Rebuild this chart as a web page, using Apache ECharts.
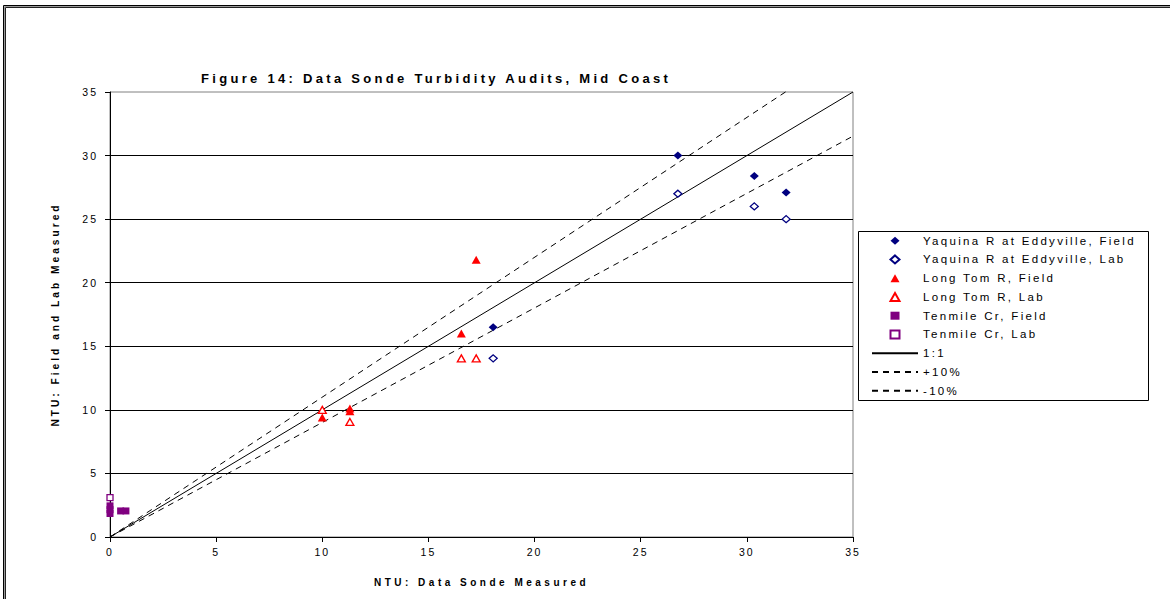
<!DOCTYPE html>
<html>
<head>
<meta charset="utf-8">
<script src="https://cdn.jsdelivr.net/npm/echarts@6/dist/echarts.min.js"></script>
<style>
  html, body { margin: 0; padding: 0; background: #fff; }
  #chart { width: 1170px; height: 599px; }
</style>
</head>
<body>
<div id="chart"></div>
<script>
// Text
const titleText = 'Figure 14: Data Sonde Turbidity Audits, Mid Coast';
const xAxisTitle = 'NTU: Data Sonde Measured';
const yAxisTitle = 'NTU: Field and Lab Measured';

// Axis range (NTU)
const axisMin = 0;
const axisMax = 35;
const axisStep = 5;

// Series names
const markerSeriesNames = [
  'Yaquina R at Eddyville, Field',
  'Yaquina R at Eddyville, Lab',
  'Long Tom R, Field',
  'Long Tom R, Lab',
  'Tenmile Cr, Field',
  'Tenmile Cr, Lab'
];
const lineSeriesNames = ['1:1', '+10%', '-10%'];

// Yaquina R at Eddyville: sonde reading vs field / lab turbidity
const yaquinaSonde = [18.05, 26.75, 30.35, 31.85];
const yaquinaField = [16.5, 30.0, 28.4, 27.1];
const yaquinaLab   = [14.05, 27.0, 26.0, 25.0];

// Long Tom R
const longTomFieldSonde = [10.0, 11.3, 11.3, 16.55, 17.25];
const longTomField      = [9.4, 10.1, 9.9, 16.0, 21.8];
const longTomLabSonde   = [10.0, 11.3, 16.55, 17.25];
const longTomLab        = [10.0, 9.05, 14.05, 14.05];

// Tenmile Cr
const tenmileFieldSonde = [0, 0, 0, 0.5, 0.75];
const tenmileField      = [1.85, 2.15, 2.45, 2.05, 2.05];
const tenmileLabSonde   = [0];
const tenmileLab        = [3.1];

// Reference lines (end points)
const oneToOneX = [0, 35];
const oneToOneY = [0, 35];
const plusTenX  = [0, 32.0];
const plusTenY  = [0, 35.2];
const minusTenX = [0, 35.3];
const minusTenY = [0, 31.8];

const pairs = (xs, ys) => xs.map((x, i) => [x, ys[i]]);

const FONT = '"Liberation Sans", Arial, sans-serif';
const NAVY = '#000080';
const RED = '#ff0000';
const PURPLE = '#800080';

// Letter spacing per font size (applied to the SVG text nodes)
const spacingBySize = { '13': 3.3, '11.5': 2.3, '10.5': 2.0, '10': 3.5, '10.2': 3.0 };

function scatter(name, data, symbol, size, fill, stroke) {
  return {
    name, type: 'scatter', data, symbol, symbolSize: size, z: 3,
    itemStyle: { color: fill, borderColor: stroke, borderWidth: fill === '#ffffff' ? 1.3 : 0, opacity: 1 },
    emphasis: { disabled: true }
  };
}
function refLine(name, data, dash) {
  return {
    name, type: 'line', data, symbol: 'none', clip: false, z: 2,
    lineStyle: { color: '#000', width: 1, type: dash },
    itemStyle: { color: '#000' },
    emphasis: { disabled: true }
  };
}

const rowPitch = 18.75;
const legendTop = 234.7;

const chart = echarts.init(document.getElementById('chart'), null, { renderer: 'svg' });

chart.setOption({
  animation: false,
  backgroundColor: '#ffffff',
  title: {
    text: titleText,
    left: 196, top: 67,
    textStyle: { fontFamily: FONT, fontSize: 13, fontWeight: 'bold', color: '#000' }
  },
  grid: {
    left: 110, top: 92, right: 317, bottom: 62,
    show: true, borderColor: '#808080', borderWidth: 1, backgroundColor: '#fff'
  },
  xAxis: {
    type: 'value', min: axisMin, max: axisMax, interval: axisStep,
    name: xAxisTitle, nameLocation: 'middle', nameGap: 40,
    nameTextStyle: { fontFamily: FONT, fontSize: 10, fontWeight: 'bold', color: '#000' },
    axisLine: { show: true, onZero: false, lineStyle: { color: '#000', width: 1 } },
    axisTick: { show: true, inside: false, length: 5, lineStyle: { color: '#000' } },
    axisLabel: { margin: 9, fontFamily: FONT, fontSize: 10.5, color: '#000' },
    splitLine: { show: false }
  },
  yAxis: {
    type: 'value', min: axisMin, max: axisMax, interval: axisStep,
    name: yAxisTitle, nameLocation: 'middle', nameGap: 50, nameRotate: 90,
    nameTextStyle: { fontFamily: FONT, fontSize: 10.2, fontWeight: 'bold', color: '#000' },
    axisLine: { show: true, onZero: false, lineStyle: { color: '#000', width: 1 } },
    axisTick: { show: true, inside: false, length: 5, lineStyle: { color: '#000' } },
    axisLabel: { margin: 12, fontFamily: FONT, fontSize: 10.5, color: '#000' },
    splitLine: { show: true, showMinLine: false, showMaxLine: false, lineStyle: { color: '#000', width: 1 } }
  },
  legend: [
    {
      // marker series: small icon centred over the line icons, text pushed to the same column
      orient: 'vertical',
      left: 889.5, top: legendTop,
      itemWidth: 9, itemHeight: 8, itemGap: rowPitch - 12, itemTextGap: 5.5,
      padding: 0,
      data: markerSeriesNames,
      textStyle: { fontFamily: FONT, fontSize: 11.5, lineHeight: 12, color: '#000', padding: [0, 0, 0, 18.5] },
      selectedMode: false
    },
    {
      // reference lines
      orient: 'vertical',
      left: 871, top: legendTop + 6 * rowPitch,
      itemWidth: 46, itemHeight: 8, itemGap: rowPitch - 12, itemTextGap: 5.5,
      padding: 0,
      data: lineSeriesNames,
      textStyle: { fontFamily: FONT, fontSize: 11.5, lineHeight: 12, color: '#000' },
      itemStyle: { color: 'rgba(0,0,0,0)', borderWidth: 0, opacity: 0 },
      selectedMode: false
    }
  ],
  graphic: [
    { type: 'rect', silent: true, z: 100,
      shape: { x: 3.5, y: 5.5, width: 1200, height: 700 },
      style: { fill: 'none', stroke: '#000', lineWidth: 1 } },
    { type: 'rect', silent: true, z: 100,
      shape: { x: 4.5, y: 6.5, width: 1200, height: 700 },
      style: { fill: 'none', stroke: '#999', lineWidth: 1 } },
    { type: 'rect', silent: true, z: 100,
      shape: { x: 5.5, y: 7.5, width: 1200, height: 700 },
      style: { fill: 'none', stroke: '#222', lineWidth: 1 } },
    { type: 'rect', silent: true, z: 100,
      shape: { x: 858.5, y: 231.5, width: 290, height: 169 },
      style: { fill: 'none', stroke: '#000', lineWidth: 1 } }
  ],
  series: [
    refLine(lineSeriesNames[0], pairs(oneToOneX, oneToOneY), 'solid'),
    refLine(lineSeriesNames[1], pairs(plusTenX, plusTenY), [6, 5]),
    refLine(lineSeriesNames[2], pairs(minusTenX, minusTenY), [6, 5]),
    scatter(markerSeriesNames[0], pairs(yaquinaSonde, yaquinaField), 'diamond', [9, 8], NAVY, NAVY),
    scatter(markerSeriesNames[1], pairs(yaquinaSonde, yaquinaLab), 'diamond', [8, 7], '#ffffff', NAVY),
    scatter(markerSeriesNames[2], pairs(longTomFieldSonde, longTomField), 'triangle', [9, 8], RED, RED),
    scatter(markerSeriesNames[3], pairs(longTomLabSonde, longTomLab), 'triangle', [8, 7], '#ffffff', RED),
    scatter(markerSeriesNames[4], pairs(tenmileFieldSonde, tenmileField), 'rect', [7, 7], PURPLE, PURPLE),
    scatter(markerSeriesNames[5], pairs(tenmileLabSonde, tenmileLab), 'rect', [6, 6], '#ffffff', PURPLE)
  ]
});

function applySpacing() {
  document.querySelectorAll('#chart svg text').forEach(t => {
    const fs = String(parseFloat(getComputedStyle(t).fontSize));
    const sp = spacingBySize[fs];
    if (sp !== undefined) t.style.letterSpacing = sp + 'px';
  });
}
chart.on('finished', applySpacing);
applySpacing();
setTimeout(applySpacing, 50);
</script>
</body>
</html>
